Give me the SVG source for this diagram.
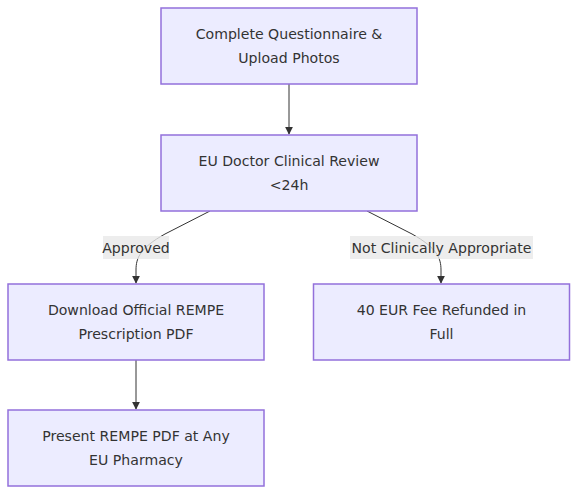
<svg xmlns="http://www.w3.org/2000/svg" width="586" height="502" viewBox="0 0 586 502">
<style>
.node rect{fill:#ECECFF;stroke:#9370DB;stroke-width:1.5}
.node text,.lbl text{font-family:"Trebuchet MS","DejaVu Sans","Liberation Sans",sans-serif;font-size:14.1px;fill:#333;text-anchor:middle}
.edge{fill:none;stroke:#333;stroke-width:1}
.lbl rect{fill:#e8e8e8;fill-opacity:0.8}
</style>
<defs>
<marker id="arr" viewBox="0 0 10 10" refX="9" refY="5" markerWidth="8" markerHeight="8" markerUnits="userSpaceOnUse" orient="auto">
<path d="M0,0 L10,5 L0,10 z" fill="#333"/>
</marker>
</defs>
<rect width="586" height="502" fill="#fff"/>
<g id="connectors">
<path class="edge" d="M289,84 L289,134" marker-end="url(#arr)"/>
<path class="edge" d="M210,211 L165,234 C140,248 136,258 136,270 L136,283" marker-end="url(#arr)"/>
<path class="edge" d="M367,211 L412,234 C437,248 441,258 441,270 L441,283" marker-end="url(#arr)"/>
<path class="edge" d="M136,360 L136,409" marker-end="url(#arr)"/>
</g>
<g id="label-approved" class="lbl">
<rect x="103" y="236" width="66" height="23"/>
<text x="136" y="252.5">Approved</text>
</g>
<g id="label-not" class="lbl">
<rect x="350" y="236" width="183" height="23"/>
<text x="441.5" y="252.5">Not Clinically Appropriate</text>
</g>
<g id="nodeA" class="node">
<rect x="161" y="8" width="256" height="76"/>
<text x="289" y="38.5">Complete Questionnaire &amp;</text>
<text x="289" y="62.5">Upload Photos</text>
</g>
<g id="nodeB" class="node">
<rect x="161" y="135" width="256" height="76"/>
<text x="289" y="165.5">EU Doctor Clinical Review</text>
<text x="289" y="189.5">&lt;24h</text>
</g>
<g id="nodeC" class="node">
<rect x="8" y="284" width="256" height="76"/>
<text x="136" y="314.5">Download Official REMPE</text>
<text x="136" y="338.5">Prescription PDF</text>
</g>
<g id="nodeD" class="node">
<rect x="313.5" y="284" width="256" height="76"/>
<text x="441.5" y="314.5">40 EUR Fee Refunded in</text>
<text x="441.5" y="338.5">Full</text>
</g>
<g id="nodeE" class="node">
<rect x="8" y="410" width="256" height="76"/>
<text x="136" y="440.5">Present REMPE PDF at Any</text>
<text x="136" y="464.5">EU Pharmacy</text>
</g>
</svg>
